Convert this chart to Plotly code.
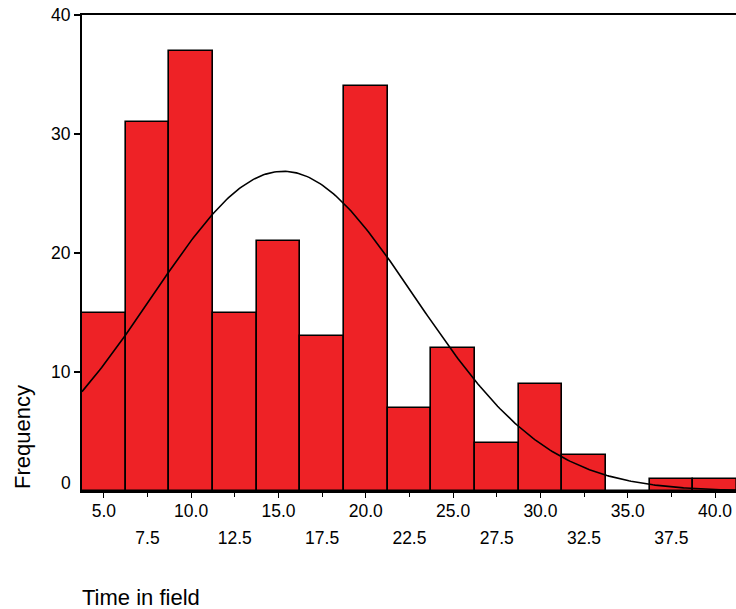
import numpy as np
import plotly.graph_objects as go

# Histogram data (bin centres and counts)
bin_centers = [5.0, 7.5, 10.0, 12.5, 15.0, 17.5, 20.0, 22.5, 25.0, 27.5, 30.0, 32.5, 35.0, 37.5, 40.0]
counts = [15, 31, 37, 15, 21, 13, 34, 7, 12, 4, 9, 3, 0, 1, 1]
bin_width = 2.5

upper_tick_vals = [5.0, 10.0, 15.0, 20.0, 25.0, 30.0, 35.0, 40.0]
upper_tick_text = ["5.0", "10.0", "15.0", "20.0", "25.0", "30.0", "35.0", "40.0"]
lower_tick_vals = [7.5, 12.5, 17.5, 22.5, 27.5, 32.5, 37.5]
lower_tick_text = ["7.5", "12.5", "17.5", "22.5", "27.5", "32.5", "37.5"]
y_tick_vals = [0, 10, 20, 30, 40]
y_tick_text = ["0", "10", "20", "30", "40"]

x_title = "Time in field"
y_title = "Frequency"

x_range = [3.75, 41.2]

# Fitted normal curve from the binned data
c = np.array(counts, dtype=float)
xc = np.array(bin_centers)
n = c.sum()
mean = (c * xc).sum() / n
sd = np.sqrt((c * (xc - mean) ** 2).sum() / (n - 1))
xs = np.linspace(x_range[0], x_range[1], 300)
ys = n * bin_width / (sd * np.sqrt(2 * np.pi)) * np.exp(-0.5 * ((xs - mean) / sd) ** 2)

FONT = "Liberation Sans"
TICK = 17.5

fig = go.Figure()
fig.add_trace(go.Bar(
    x=bin_centers, y=counts, width=bin_width,
    marker=dict(color="#EE2226", line=dict(color="black", width=1.6)),
    showlegend=False, hoverinfo="x+y",
))
fig.add_trace(go.Scatter(
    x=xs, y=ys, mode="lines", line=dict(color="black", width=1.6),
    showlegend=False, hoverinfo="skip",
))
# invisible trace to activate the second x axis
fig.add_trace(go.Scatter(x=[x_range[0]], y=[0], xaxis="x2", mode="markers",
                         marker=dict(opacity=0), showlegend=False, hoverinfo="skip"))

fig.update_layout(
    width=736, height=609,
    margin=dict(l=82, r=0, t=15, b=118, autoexpand=False),
    paper_bgcolor="white", plot_bgcolor="white",
    font=dict(family=FONT, size=TICK, color="black"),
    bargap=0,
    xaxis=dict(
        range=x_range, showgrid=False, zeroline=False,
        showline=True, linecolor="black", linewidth=2, mirror=True,
        ticks="outside", ticklen=5, tickwidth=1, tickcolor="black",
        tickvals=upper_tick_vals, ticktext=upper_tick_text,
        tickfont=dict(size=TICK), ticklabelstandoff=-2, automargin=False,
    ),
    xaxis2=dict(
        range=x_range, overlaying="x", side="bottom", anchor="y",
        showgrid=False, zeroline=False, showline=False,
        ticks="outside", ticklen=5, tickwidth=1, tickcolor="black",
        tickvals=lower_tick_vals, ticktext=lower_tick_text,
        tickfont=dict(size=TICK), ticklabelstandoff=26, automargin=False,
    ),
    yaxis=dict(
        range=[0, 40], showgrid=False, zeroline=False,
        showline=True, linecolor="black", linewidth=2, mirror=False,
        ticks="outside", ticklen=6, tickwidth=1.5, tickcolor="black",
        tickvals=y_tick_vals[1:], ticktext=y_tick_text[1:],
        tickfont=dict(size=TICK), automargin=False,
    ),
    annotations=[
        dict(text=y_tick_text[0], x=0, y=y_tick_vals[0], xref="paper", yref="y",
             xanchor="right", yanchor="middle", xshift=-9, yshift=8,
             showarrow=False, font=dict(size=TICK)),
        dict(text=y_title, x=-0.092, y=0.113, xref="paper", yref="paper",
             textangle=-90, xanchor="center", yanchor="middle",
             showarrow=False, font=dict(size=22)),
        dict(text=x_title, x=-0.003, y=-0.223, xref="paper", yref="paper",
             xanchor="left", yanchor="middle",
             showarrow=False, font=dict(size=22)),
    ],
)

fig.write_html(
    "out.html",
    config={"displayModeBar": False},
    post_script="document.body.style.margin='0';document.body.style.overflow='hidden';",
)
